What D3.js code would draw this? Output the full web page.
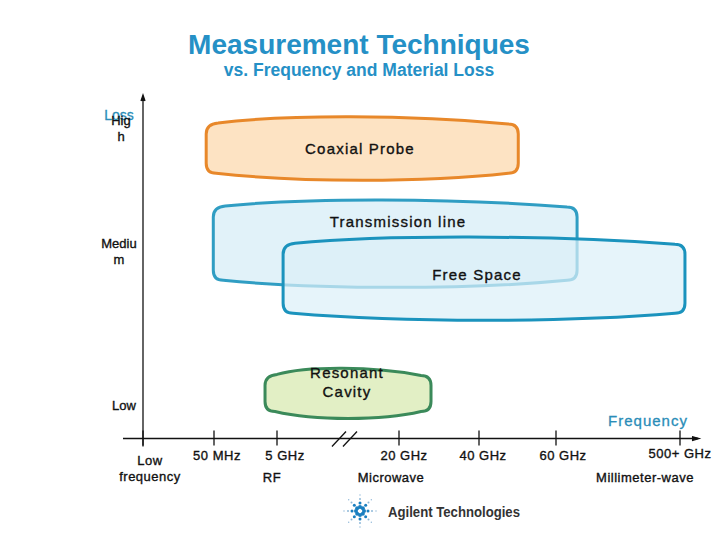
<!DOCTYPE html>
<html><head><meta charset="utf-8">
<script src="https://cdn.jsdelivr.net/npm/d3@7"></script>
<style>body{margin:0;background:#fff}svg{display:block}text{font-family:"Liberation Sans",Arial,sans-serif}
.t{stroke:#111;stroke-width:0.35px}</style>
</head><body>
<script>
// ---- data ----
const freqTicks = ["Low frequency","50 MHz","5 GHz","20 GHz","40 GHz","60 GHz","500+ GHz"];
const freqTickIndex = [0,1,2,3,4,5,6];
const bands = ["RF","Microwave","Millimeter-wave"];
const bandPos = [2.0, 3.0, 6.0];
const lossLabels = ["High","Medium","Low"];
const lossValues = [9.15, 5.45, 0.95];
const techniques = ["Coaxial Probe","Transmission line","Free Space","Resonant Cavity"];
const freqFrom = [0.89, 0.99, 2.05, 1.81];
const freqTo   = [4.51, 5.17, 6.04, 3.40];
const lossFrom = [7.52, 4.40, 3.44, 0.58];
const lossTo   = [9.36, 6.94, 5.86, 2.04];

const W=720,H=540;
const svg=d3.select("body").append("svg").attr("width",W).attr("height",H);

// piecewise (broken) frequency axis
const x=d3.scaleLinear().domain(freqTickIndex).range([143,214,277,399,479,556,680]);
const y=d3.scaleLinear().domain([0,10]).range([438.5,95]);

// title
svg.append("text").attr("x",359).attr("y",54).attr("text-anchor","middle")
  .attr("font-size",28).attr("font-weight","bold").attr("fill","#2590c6").text("Measurement Techniques");
svg.append("text").attr("x",359).attr("y",76).attr("text-anchor","middle")
  .attr("font-size",17.5).attr("font-weight","bold").attr("fill","#2590c6").text("vs. Frequency and Material Loss");

// shapes
const styles=[
  {stroke:"#e8882a",fill:"#fde3c3",op:1},
  {stroke:"#1b93bd",fill:"#dcf0f8",op:0.85},
  {stroke:"#1b93bd",fill:"#dcf0f8",op:0.7},
  {stroke:"#3b8a5a",fill:"#e2efc5",op:1}
];
function barrel(x0,x1,y0,y1){
  const b=7,r=10,w=x1-x0;
  const c1=y0-b/3, c2=y1+b/3;
  return `M${x0},${y1-b-r} L${x0},${y0+b+r} Q${x0},${y0+b} ${x0+r+2},${y0+b-1} `+
    `C${x0+w*0.25},${c1} ${x1-w*0.35},${c1} ${x1-r},${y0+b} Q${x1},${y0+b} ${x1},${y0+b+r} `+
    `L${x1},${y1-b-r} Q${x1},${y1-b} ${x1-r},${y1-b} `+
    `C${x1-w*0.3},${c2} ${x0+w*0.3},${c2} ${x0+r},${y1-b} Q${x0},${y1-b} ${x0},${y1-b-r} Z`;
}
const g=svg.append("g");
techniques.forEach((t,i)=>{
  const s=styles[i];
  g.append("path").attr("d",barrel(x(freqFrom[i]),x(freqTo[i]),y(lossTo[i]),y(lossFrom[i])))
   .attr("fill",s.fill).attr("fill-opacity",s.op).attr("stroke",s.stroke).attr("stroke-width",3)
   .attr("stroke-opacity", i==1?0.9:1);
});
// labels for shapes
const lab=[
  {t:["Coaxial Probe"],x:360,y:154},
  {t:["Transmission line"],x:398,y:227},
  {t:["Free Space"],x:477,y:280},
  {t:["Resonant","Cavity"],x:347,y:378}
];
lab.forEach(l=>{
  l.t.forEach((s,k)=>svg.append("text").attr("class","t").attr("x",l.x).attr("y",l.y+k*19).attr("text-anchor","middle")
    .attr("font-size",15).attr("letter-spacing","1.2").attr("fill","#111").text(s));
});

// axes
const ax=svg.append("g").attr("stroke","#111").attr("stroke-width",1.3).attr("fill","none");
ax.append("line").attr("x1",x(0)).attr("x2",x(0)).attr("y1",y(10)+2).attr("y2",y(0)+8);
ax.append("path").attr("d",`M${x(0)-2},${y(10)+6} L${x(0)},${y(10)} L${x(0)+2},${y(10)+6}`).attr("fill","#111");
ax.append("line").attr("x1",123).attr("x2",698).attr("y1",y(0)).attr("y2",y(0));
ax.append("path").attr("d",`M692,${y(0)-2} L699,${y(0)} L692,${y(0)+2}`).attr("fill","#111");
freqTickIndex.forEach(v=>{
  ax.append("line").attr("x1",x(v)).attr("x2",x(v)).attr("y1",y(0)-8).attr("y2",y(0)+7);
});
// break marks
[0,11].forEach(d=>ax.append("line").attr("x1",332+d).attr("y1",y(0)+8).attr("x2",346+d).attr("y2",y(0)-7));

// tick labels
const tl=svg.append("g").attr("font-size",13).attr("fill","#111").attr("text-anchor","middle");
freqTicks.forEach((t,i)=>{
  if(i===0){
    tl.append("text").attr("class","t").attr("x",x(0)+7).attr("y",465).attr("letter-spacing","0.5").text("Low");
    tl.append("text").attr("class","t").attr("x",x(0)+7).attr("y",481).attr("letter-spacing","0.5").text("frequency");
  } else {
    const dx=[0,3,8,5,4,7,0][i];
    tl.append("text").attr("class","t").attr("x",x(i)+dx).attr("y",i===6?458:460).attr("letter-spacing","0.5").text(t);
  }
});
bands.forEach((b,i)=>{
  const dx=[-5,-8,-35][i];
  tl.append("text").attr("class","t").attr("x",x(bandPos[i])+dx).attr("y",482).attr("letter-spacing","0.5").text(b);
});
svg.append("text").attr("x",648).attr("y",426).attr("text-anchor","middle").attr("font-size",15)
  .attr("letter-spacing","1").attr("fill","#2a8db8").attr("stroke","#2a8db8").attr("stroke-width",0.3).text("Frequency");

// y labels
svg.append("text").attr("x",119).attr("y",120).attr("text-anchor","middle").attr("font-size",14)
  .attr("fill","#2a8db8").attr("stroke","#2a8db8").attr("stroke-width",0.3).text("Loss");
const wraps=[["Hig","h"],["Mediu","m"],["Low"]];
const ylx=[121,119,124];
const yOff=[0.5,-3,4.5];
lossLabels.forEach((l,i)=>{
  const yy=y(lossValues[i])+yOff[i];
  wraps[i].forEach((s,k)=>svg.append("text").attr("class","t").attr("x",ylx[i]).attr("y",yy+k*16)
    .attr("text-anchor","middle").attr("font-size",13).attr("fill","#111").text(s));
});

// Agilent logo
const logo=svg.append("g").attr("transform","translate(360,511)");
for(let a=0;a<8;a++){
  const ang=a*Math.PI/4;
  [4,8,12,16].forEach((r,k)=>{
    logo.append("circle").attr("cx",Math.cos(ang)*r).attr("cy",Math.sin(ang)*r)
      .attr("r",[2,1.5,1,0.7][k]).attr("fill",k<2?"#1a7fc0":"#8fb8d8");
  });
}
svg.append("text").attr("x",388).attr("y",517).attr("font-size",15).attr("font-weight","bold")
  .attr("fill","#333").attr("textLength",132).attr("lengthAdjust","spacingAndGlyphs").text("Agilent Technologies");
</script>
</body></html>
